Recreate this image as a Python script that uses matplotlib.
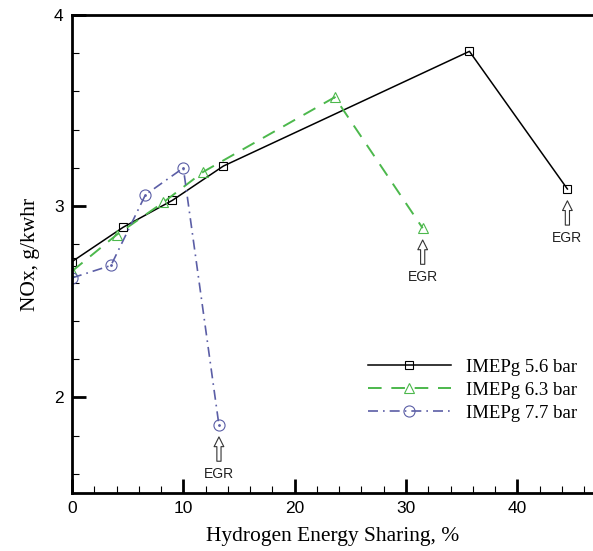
import matplotlib
matplotlib.use("Agg")
import matplotlib.pyplot as plt
from matplotlib.ticker import MultipleLocator

# Data
x_56 = [0, 4.6, 9.0, 13.6, 35.7, 44.5]
y_56 = [2.71, 2.89, 3.03, 3.21, 3.81, 3.09]
x_63 = [0, 4.0, 8.2, 11.8, 23.6, 31.5]
y_63 = [2.66, 2.85, 3.02, 3.18, 3.57, 2.885]
x_77 = [0, 3.5, 6.6, 10.0, 13.2]
y_77 = [2.625, 2.69, 3.06, 3.20, 1.855]
labels = ["IMEPg 5.6 bar", "IMEPg 6.3 bar", "IMEPg 7.7 bar"]

green = "#4cb84c"
blue = "#5b5ea6"

fig = plt.figure(figsize=(5.93, 5.51), dpi=100)
ax = fig.add_axes([72/593, 58/551, 1 - 72/593, (493-15)/551])

serif = ["Liberation Serif", "DejaVu Serif"]
sans = ["Liberation Sans", "DejaVu Sans"]

ax.plot(x_56, y_56, color="black", lw=1.1, marker="s", ms=5.5, mfc="none",
        mec="black", mew=0.8, label=labels[0])
ax.plot(x_63, y_63, color=green, lw=1.4, ls=(0, (7, 5)), marker="^", ms=7,
        mfc="none", mec=green, mew=0.8, label=labels[1])
ax.plot(x_77, y_77, color=blue, lw=1.2, ls=(0, (6, 3, 1, 3)), marker="o", ms=8,
        mfc="none", mec=blue, mew=0.8, label=labels[2])
ax.plot(x_77, y_77, ls="none", marker=".", ms=2, color=blue)

# EGR annotations at the last points
for xs, ys in [(x_56, y_56), (x_63, y_63), (x_77, y_77)]:
    xl, yl = xs[-1], ys[-1]
    ax.annotate("", xy=(xl, yl), xytext=(0, -26), textcoords="offset points",
                arrowprops=dict(arrowstyle="simple,head_length=0.7,head_width=0.7,tail_width=0.3",
                                fc="white", ec="#333333", lw=0.8, shrinkA=0, shrinkB=8.5))
    ax.annotate("EGR", xy=(xl, yl), xytext=(0, -30), textcoords="offset points",
                ha="center", va="top", fontsize=10, family=sans, color="#222222")

ax.set_xlim(0, 46.8)
ax.set_ylim(1.5, 4.0)
ax.xaxis.set_major_locator(MultipleLocator(10))
ax.xaxis.set_minor_locator(MultipleLocator(2))
ax.yaxis.set_major_locator(MultipleLocator(1))
ax.yaxis.set_minor_locator(MultipleLocator(0.2))
ax.tick_params(which="major", direction="in", length=10, width=2, labelsize=12.5, pad=6)
ax.tick_params(which="minor", direction="in", length=5, width=0.8)
ax.tick_params(top=False, right=False)
for lab in ax.get_xticklabels() + ax.get_yticklabels():
    lab.set_family(sans)

ax.spines["right"].set_visible(False)
for s in ["left", "bottom", "top"]:
    ax.spines[s].set_linewidth(2)

ax.set_xlabel("Hydrogen Energy Sharing, %", family=serif, fontsize=15.5, labelpad=8)
ax.set_ylabel("NOx, g/kwhr", family=serif, fontsize=15.5, labelpad=10)

leg = ax.legend(loc="center left", bbox_to_anchor=(0.536, 0.215), frameon=False,
                prop={"family": serif, "size": 13.5}, handlelength=4.4,
                handletextpad=0.8, labelspacing=0.3)

fig.savefig("out.png", dpi=100)
